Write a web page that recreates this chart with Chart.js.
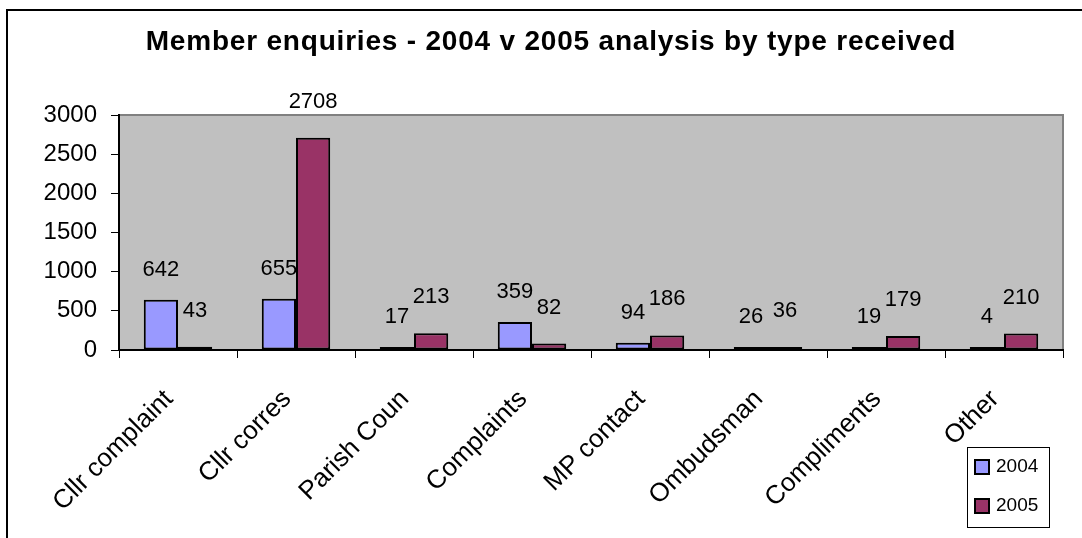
<!DOCTYPE html>
<html>
<head>
<meta charset="utf-8">
<title>Member enquiries</title>
<script src="https://cdn.jsdelivr.net/npm/chart.js@4.4.1/dist/chart.umd.min.js"></script>
<style>
  html, body { margin: 0; padding: 0; background: #fff; }
  #wrap { width: 1082px; height: 538px; position: relative; }
</style>
</head>
<body>
<div id="wrap"><canvas id="chart"></canvas></div>
<script>
var titleText = 'Member enquiries - 2004 v 2005 analysis by type received';
var categories = ['Cllr complaint', 'Cllr corres', 'Parish Coun', 'Complaints', 'MP contact', 'Ombudsman', 'Compliments', 'Other'];
var values2004 = [642, 655, 17, 359, 94, 26, 19, 4];
var values2005 = [43, 2708, 213, 82, 186, 36, 179, 210];
var seriesNames = ['2004', '2005'];
var yTicks = [0, 500, 1000, 1500, 2000, 2500, 3000];

var FONT = '"Liberation Sans", Arial, sans-serif';

// grey plot area, outer frame and the title
var backgroundPlugin = {
  id: 'background',
  beforeDraw: function (chart) {
    var ctx = chart.ctx;
    var a = chart.chartArea;
    ctx.save();
    ctx.fillStyle = '#fff';
    ctx.fillRect(0, 0, chart.width, chart.height);
    ctx.strokeStyle = '#000';
    ctx.lineWidth = 2;
    ctx.beginPath();
    ctx.moveTo(7, chart.height + 2);
    ctx.lineTo(7, 10);
    ctx.lineTo(chart.width + 2, 10);
    ctx.stroke();
    ctx.fillStyle = '#c0c0c0';
    ctx.fillRect(a.left, a.top, a.right - a.left, a.bottom - a.top);
    ctx.strokeStyle = '#808080';
    ctx.lineWidth = 2;
    ctx.beginPath();
    ctx.moveTo(a.left, a.top);
    ctx.lineTo(a.right, a.top);
    ctx.lineTo(a.right, a.bottom);
    ctx.stroke();

    ctx.letterSpacing = '0.8px';
    ctx.font = 'bold 28px ' + FONT;
    ctx.fillStyle = '#000';
    ctx.textAlign = 'center';
    ctx.textBaseline = 'alphabetic';
    ctx.fillText(titleText, 551, 50);
    ctx.letterSpacing = '0px';
    ctx.restore();
  }
};

// value labels above each bar
var valueLabelPlugin = {
  id: 'valueLabels',
  afterDatasetsDraw: function (chart) {
    var ctx = chart.ctx;
    var offsets = [30, 36];
    ctx.save();
    ctx.font = '22px ' + FONT;
    ctx.fillStyle = '#000';
    ctx.textAlign = 'center';
    ctx.textBaseline = 'middle';
    chart.data.datasets.forEach(function (ds, i) {
      var meta = chart.getDatasetMeta(i);
      meta.data.forEach(function (bar, j) {
        ctx.fillText(String(ds.data[j]), bar.x, bar.y - offsets[i]);
      });
    });
    ctx.restore();
  }
};

// boxed legend in the lower right corner
var boxLegendPlugin = {
  id: 'boxLegend',
  afterDraw: function (chart) {
    var ctx = chart.ctx;
    var x = 967, y = 447, w = 82, h = 80;
    ctx.save();
    ctx.fillStyle = '#fff';
    ctx.fillRect(x, y, w, h);
    ctx.strokeStyle = '#000';
    ctx.lineWidth = 1;
    ctx.strokeRect(x + 0.5, y + 0.5, w, h);
    ctx.font = '19px ' + FONT;
    ctx.textBaseline = 'middle';
    chart.data.datasets.forEach(function (ds, i) {
      var cy = y + 20 + i * 39;
      ctx.fillStyle = ds.backgroundColor;
      ctx.fillRect(x + 8, cy - 7, 14, 14);
      ctx.strokeStyle = '#000';
      ctx.lineWidth = 2;
      ctx.strokeRect(x + 8, cy - 7, 14, 14);
      ctx.fillStyle = '#000';
      ctx.fillText(ds.label, x + 29, cy);
    });
    ctx.restore();
  }
};

new Chart(document.getElementById('chart'), {
  type: 'bar',
  data: {
    labels: categories,
    datasets: [
      {
        label: seriesNames[0],
        data: values2004,
        backgroundColor: '#9999ff',
        borderColor: '#000',
        borderWidth: 2,
        borderSkipped: false,
        minBarLength: 3,
        categoryPercentage: 0.58,
        barPercentage: 1.0
      },
      {
        label: seriesNames[1],
        data: values2005,
        backgroundColor: '#993366',
        borderColor: '#000',
        borderWidth: 2,
        borderSkipped: false,
        minBarLength: 3,
        categoryPercentage: 0.58,
        barPercentage: 1.0
      }
    ]
  },
  options: {
    responsive: true,
    maintainAspectRatio: false,
    animation: false,
    layout: { padding: { left: 0, right: 19, top: 115, bottom: 0 } },
    plugins: {
      legend: { display: false },
      tooltip: { enabled: false },
      title: { display: false }
    },
    scales: {
      x: {
        grid: {
          offset: true,
          drawOnChartArea: false,
          drawTicks: true,
          tickLength: 8,
          color: '#000'
        },
        border: { display: true, color: '#000', width: 2 },
        ticks: {
          color: '#000',
          font: { family: FONT, size: 26 },
          minRotation: 45,
          maxRotation: 45,
          padding: 26,
          labelOffset: -9,
          autoSkip: false
        },
        afterFit: function (scale) { scale.height = 188; }
      },
      y: {
        min: 0,
        max: 3000,
        afterBuildTicks: function (scale) {
          scale.ticks = yTicks.map(function (v) { return { value: v }; });
        },
        grid: {
          drawOnChartArea: false,
          drawTicks: true,
          tickLength: 8,
          color: '#000'
        },
        border: { display: true, color: '#000', width: 2 },
        ticks: {
          color: '#000',
          font: { family: FONT, size: 24 },
          padding: 14,
          callback: function (v) { return String(v); }
        },
        afterFit: function (scale) { scale.width = 119; }
      }
    }
  },
  plugins: [backgroundPlugin, valueLabelPlugin, boxLegendPlugin]
});
</script>
</body>
</html>
